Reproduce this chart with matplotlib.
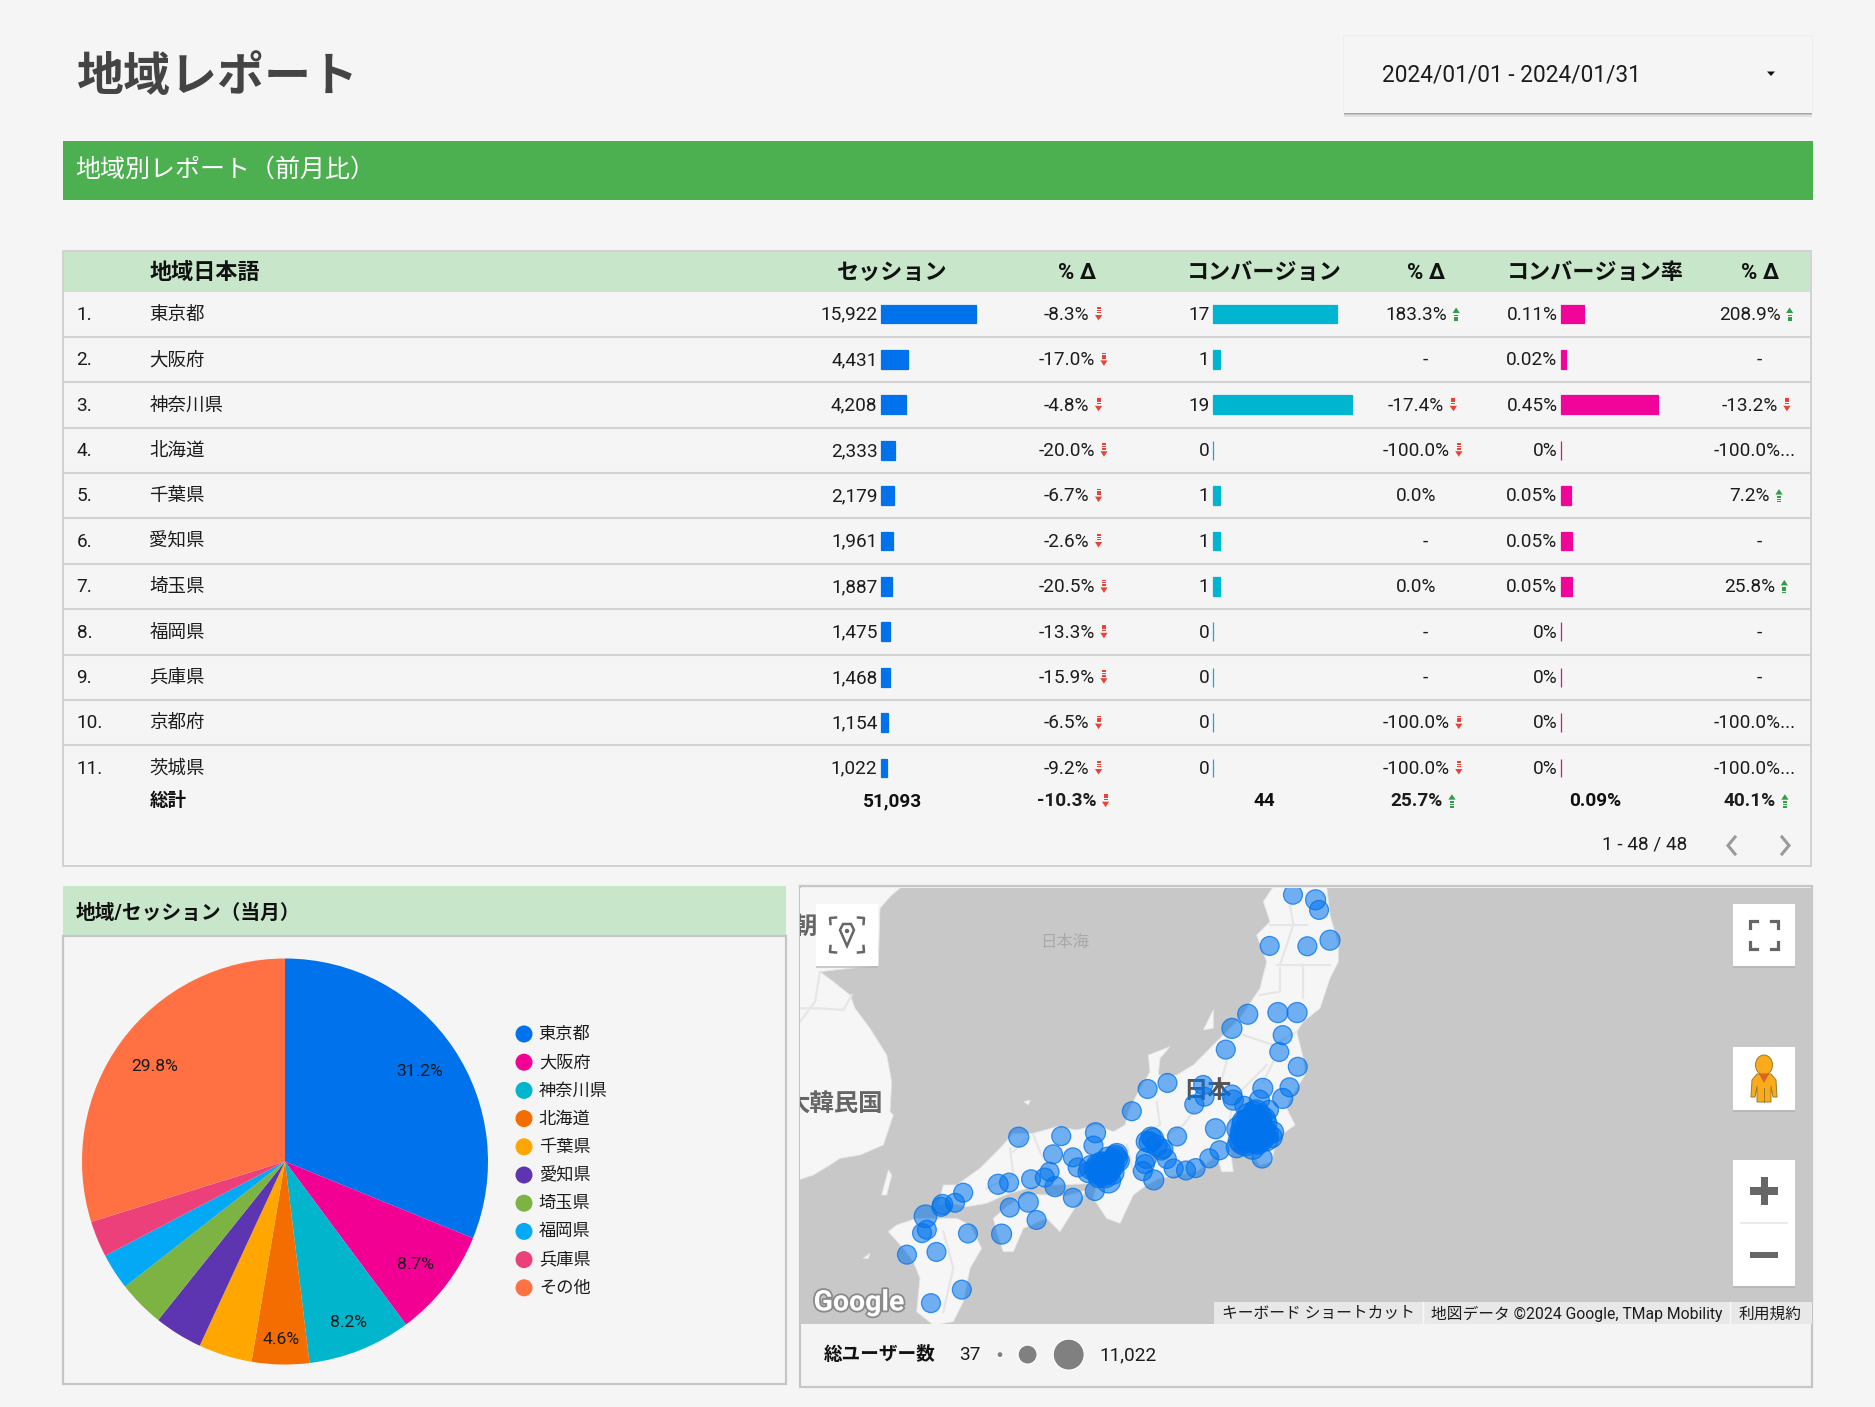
import numpy as np
import matplotlib
matplotlib.use("Agg")
import matplotlib.pyplot as plt
from matplotlib.patches import Rectangle, Polygon, Ellipse, Circle
import matplotlib.patheffects as pe

plt.rcParams['font.family'] = ['Roboto', 'Noto Sans CJK JP', 'DejaVu Sans']

# ---------- data ----------
regions = ['東京都', '大阪府', '神奈川県', '北海道', '千葉県', '愛知県', '埼玉県', '福岡県', '兵庫県', '京都府', '茨城県']
sessions = [15922, 4431, 4208, 2333, 2179, 1961, 1887, 1475, 1468, 1154, 1022]
session_delta = [-8.3, -17.0, -4.8, -20.0, -6.7, -2.6, -20.5, -13.3, -15.9, -6.5, -9.2]
conversions = [17, 1, 19, 0, 1, 1, 1, 0, 0, 0, 0]
conv_delta = [183.3, None, -17.4, -100.0, 0.0, None, 0.0, None, None, -100.0, -100.0]
conv_rate = [0.107, 0.023, 0.452, 0, 0.046, 0.051, 0.053, 0, 0, 0, 0]
conv_rate_labels = ['0.11%', '0.02%', '0.45%', '0%', '0.05%', '0.05%', '0.05%', '0%', '0%', '0%', '0%']
rate_delta = [208.9, None, -13.2, -100.0, 7.2, None, 25.8, None, None, -100.0, -100.0]
totals = ['51,093', -10.3, '44', 25.7, '0.09%', 40.1]

pie_labels = ['東京都', '大阪府', '神奈川県', '北海道', '千葉県', '愛知県', '埼玉県', '福岡県', '兵庫県', 'その他']
pie_values = [15922, 4431, 4208, 2333, 2179, 1961, 1887, 1475, 1468, 15229]
pie_colors = ['#0072ec', '#f20094', '#00b5cc', '#f46d00', '#ffa600', '#5e35b1', '#7cb342', '#03a9f4', '#ec407a', '#ff7043']

bubble_x = [719, 752, 757, 773, 740, 685,
            653, 697, 725, 630, 704, 621, 699, 726,
            714, 675, 704, 670, 684, 648,
            536, 507, 588, 590, 575, 630, 632, 484,
            655, 665, 650, 672, 660, 645, 680, 690, 670, 650, 660, 637, 688, 668, 640, 655, 675, 658, 645, 660,
            662, 650, 668, 678, 652, 640, 672,
            665, 678, 645, 655, 668, 680, 655, 665, 650, 675, 662, 648,
            674, 606, 612, 597, 550,
            577, 563, 545, 535, 527, 515, 510, 520, 505, 530, 512, 505, 503, 500, 516,
            460, 450, 440, 445, 430, 455, 465, 420, 435, 450, 405, 398, 462, 440, 455, 448, 442,
            425, 435, 445, 455, 440, 450, 445, 435, 460,
            431, 428, 381, 319, 369, 430, 398,
            364, 357, 372, 337, 305, 289, 333, 306, 345, 294, 238, 226, 208, 206,
            183, 185, 178, 245, 199, 156, 236, 191]
bubble_y = [45, 60, 90, 180, 198, 197,
            400, 395, 395, 442, 462, 505, 512, 556,
            617, 620, 650, 655, 684, 672,
            604, 622, 610, 645, 668, 640, 655, 688,
            700, 710, 730, 730, 750, 760, 755, 750, 770, 785, 795, 795, 765, 720, 740, 715, 745, 770, 780, 730,
            690, 760, 785, 710, 740, 775, 700,
            690, 725, 750, 740, 755, 770, 760, 775, 770, 760, 705, 720,
            827, 740, 804, 828, 763,
            857, 864, 858, 830, 805, 770, 780, 790, 778, 800, 765, 828, 845, 866, 892,
            820, 830, 845, 860, 860, 850, 835, 870, 885, 895, 855, 825, 815, 870, 870, 850, 875,
            855, 850, 845, 840, 860, 865, 880, 870, 830,
            752, 790, 762, 765, 816, 925, 945,
            868, 885, 912, 890, 900, 905, 958, 974, 1011, 1053, 930, 960, 965, 972,
            1000, 1040, 1050, 1051, 1106, 1114, 1218, 1258]
bubble_users = [300, 400, 300, 400, 300, 300,
                400, 400, 400, 400, 300, 300, 300, 300,
                300, 400, 400, 400, 300, 300,
                300, 300, 300, 300, 300, 400, 400, 300,
                900, 900, 1500, 900, 3000, 900, 900, 500, 1500, 900, 900, 500, 500, 900, 900, 900, 900, 1500, 900, 900,
                500, 500, 500, 500, 500, 500, 500,
                900, 900, 900, 900, 900, 900, 900, 900, 900, 900, 900, 900,
                400, 400, 300, 300, 300,
                300, 300, 300, 300, 300, 500, 500, 500, 400, 300, 400, 400, 300, 300, 400,
                500, 900, 900, 900, 500, 900, 500, 400, 400, 900, 300, 300, 500, 900, 900, 900, 900,
                900, 900, 900, 900, 900, 900, 900, 900, 900,
                400, 300, 300, 400, 300, 300, 300,
                300, 300, 400, 300, 300, 400, 400, 300, 300, 400, 300, 300, 400, 300,
                700, 300, 300, 300, 300, 300, 300, 300]
legend_min, legend_max = '37', '11,022'

# ---------- helpers ----------
W, H = 1875, 1407
BG = '#f5f5f5'
GREEN_L = '#c8e6c9'
LINE = '#d2d2d2'
TXT = '#1c1c1c'
fig = plt.figure(figsize=(W / 100, H / 100), dpi=100, facecolor=BG)


def px_axes(l, t, r, b, z=1):
    a = fig.add_axes([l / W, 1 - b / H, (r - l) / W, (b - t) / H], zorder=z)
    a.axis('off')
    a.patch.set_alpha(0)
    return a


ax = px_axes(0, 0, W, H, 0)
ax.set_xlim(0, W)
ax.set_ylim(H, 0)
renderer = fig.canvas.get_renderer()


def T(x, y, s, size=13.7, weight='normal', color=TXT, ha='left', a=None, **kw):
    return (a or ax).text(x, y - 1.2, s, fontsize=size, fontweight=weight, color=color, ha=ha, va='center_baseline', **kw)


def rect(x0, y0, x1, y1, fc, ec='none', lw=0, a=None, z=1, **kw):
    p = Rectangle((x0, y0), x1 - x0, y1 - y0, fc=fc, ec=ec, lw=lw, zorder=z, **kw)
    (a or ax).add_patch(p)
    return p


def arrow(cx, cy, up):
    c = '#2f9e44' if up else '#ea4335'
    s = -1 if up else 1
    ax.add_patch(Polygon([(cx - 3.6, cy + s * 1.0), (cx + 3.6, cy + s * 1.0), (cx, cy + s * 6.5)], fc=c, ec='none', zorder=3))
    for off in (-6, -3.7, -1.4):
        rect(cx - 2, cy + s * off - 0.8, cx + 2, cy + s * off + 0.8, c, z=3)


def delta(center, y, val, weight='normal'):
    if val is None:
        T(center + 3, y, '-', ha='center', weight=weight)
        return
    if val == 0:
        T(center - 6, y, '0.0%', ha='center', weight=weight)
        return
    t = T(center, y, f'{val:.1f}%', ha='left', weight=weight)
    w = t.get_window_extent(renderer).width
    aw = 7
    gap = 5.5
    x0 = center - (w + gap + aw) / 2
    t.set_x(x0)
    arrow(x0 + w + gap + aw / 2, y, val > 0)


# ---------- page header ----------
T(76, 74, '地域レポート', size=33.8, weight='bold', color='#444444')
for y0, c in [(112.5, '#a6a6a6'), (114, '#c4c4c4'), (115, '#e2e2e2')]:
    rect(1344, y0, 1812, y0 + 1.5, c)
rect(1343, 35, 1813, 113, '#ededed')
rect(1344, 35.5, 1812, 113, BG, z=2)
T(1381.5, 73.5, '2024/01/01 - 2024/01/31', size=16.3, zorder=3)
ax.add_patch(Polygon([(1767, 71.5), (1775, 71.5), (1771, 76)], fc='#111111', ec='none', zorder=3))
rect(62.5, 141, 1812.5, 200, '#4caf50')
T(75.5, 168, '地域別レポート（前月比）', size=18, color='white')

# ---------- table ----------
TL, TR, TT, TB = 63, 1811, 251, 866
rect(TL, TT, TR, 292, GREEN_L)
ax.add_patch(Rectangle((TL, TT), TR - TL, TB - TT, fc='none', ec=LINE, lw=1.4, zorder=2))
row_h = 45.4
row_y = [314 + row_h * i for i in range(11)]
for i in range(10):
    ax.plot([TL, TR], [336.7 + row_h * i] * 2, color=LINE, lw=1.5, zorder=2, solid_capstyle='butt')

HY = 271.5
T(149.5, HY, '地域日本語', size=15.9, weight='bold', color='#111111')
for x, s in [(892, 'セッション'), (1076.7, '% Δ'), (1264.5, 'コンバージョン'), (1425.8, '% Δ'),
             (1595.7, 'コンバージョン率'), (1759.8, '% Δ')]:
    T(x, HY, s, size=15.9, weight='bold', color='#111111', ha='center')

for i, y in enumerate(row_y):
    T(76.5, y, f'{i + 1}.', color=TXT)
    T(149.5, y, regions[i], size=13.3)
    T(877.5, y, f'{sessions[i]:,}', ha='right')
    delta(1073, y, session_delta[i])
    T(1209.5, y, str(conversions[i]), ha='right')
    delta(1422.5, y, conv_delta[i])
    T(1557.5, y, conv_rate_labels[i], ha='right')
    if rate_delta[i] == -100.0:
        T(1755, y, '-100.0%...', ha='center')
    else:
        delta(1756, y, rate_delta[i])

rows = np.arange(11)
top_px = row_y[0] - row_h / 2
bot_px = row_y[-1] + row_h / 2
for (l, r, vals, vmax, col) in [(881, 976.5, sessions, 15922, '#0072ec'),
                                (1213, 1337, conversions, 17, '#00b5cf'),
                                (1561, 1657.5, conv_rate, 0.452, '#f0049a')]:
    a = px_axes(l, top_px, r, bot_px, 1)
    a.set_xlim(0, vmax)
    a.set_ylim(10.5, -0.5)
    a.barh(rows, vals, height=18.7 / row_h, color=col, edgecolor=col, linewidth=0.9, clip_on=False)

TOTY = 800.7
T(149.5, TOTY, '総計', size=13.3, weight='bold', color='#111111')
T(892, TOTY, totals[0], weight='bold', ha='center', color='#111111')
delta(1073, TOTY, totals[1], weight='bold')
T(1264, TOTY, totals[2], weight='bold', ha='center', color='#111111')
delta(1423, TOTY, totals[3], weight='bold')
T(1595, TOTY, totals[4], weight='bold', ha='center', color='#111111')
delta(1756, TOTY, totals[5], weight='bold')

T(1687, 844, '1 - 48 / 48', ha='right')
ax.plot([1735, 1728, 1735], [837, 845.5, 854], color='#9a9a9a', lw=2.2, solid_joinstyle='miter')
ax.plot([1782, 1789, 1782], [837, 845.5, 854], color='#9a9a9a', lw=2.2, solid_joinstyle='miter')

# ---------- pie panel ----------
PANEL = '#c6c6c6'
rect(63, 886, 785.5, 936, GREEN_L)
ax.add_patch(Rectangle((63, 936), 722.5, 448, fc='none', ec=PANEL, lw=1.6, zorder=2))
T(75.8, 912.5, '地域/セッション（当月）', size=14.2, weight='bold', color='#111111')

pcx, pcy, R = 285, 1161.5, 203
pa = px_axes(pcx - R, pcy - R, pcx + R, pcy + R, 1)
_, _, autotexts = pa.pie(pie_values, colors=pie_colors, startangle=90, counterclock=False, radius=1.0,
                         autopct=lambda p: f'{p:.1f}%' if p >= 4.5 else '', pctdistance=0.8,
                         textprops={'fontsize': 12.6, 'color': '#1a1a1a'})
pa.set_xlim(-1, 1)
pa.set_ylim(-1, 1)
for at, k in zip(autotexts, [1.0, 1.02, 1.06, 1.09, 1, 1, 1, 1, 1, 1.0]):
    px_, py_ = at.get_position()
    at.set_position((px_ * k, py_ * k - 0.005))
for i, s in enumerate(pie_labels):
    y = 1034 + 28.2 * i
    ax.add_patch(Circle((524, y), 8.5, fc=pie_colors[i], ec='none', zorder=2))
    T(538.8, y, s, size=12.4)

# ---------- map panel ----------
ML, MR, MT, MB = 800, 1812, 888, 1324
ax.add_patch(Rectangle((ML, 886), MR - ML, 501, fc='#f4f4f4', ec=PANEL, lw=1.6, zorder=1))
m = px_axes(ML, MT, MR, MB, 2)
m.set_xlim(ML, MR)
m.set_ylim(MB, MT)
m.add_patch(Rectangle((ML, MT), MR - ML, MB - MT, fc='#c8c8c8', ec='none', zorder=0))


def Z(pts):
    return [(800 + px / 3, 885 + py / 3) for px, py in pts]


LAND = '#f6f6f6'
land = [
    [(-5, 5), (305, 5), (270, 35), (240, 70), (235, 240), (60, 260), (100, 290), (150, 330), (165, 370), (210, 430), (260, 510),
     (275, 590), (270, 680), (280, 690), (250, 780), (180, 810), (120, 820), (90, 840), (40, 870), (-5, 885)],
    [(415, 960), (430, 900), (470, 900), (540, 850), (600, 790), (640, 745), (700, 745), (770, 725), (830, 735), (890, 720),
     (940, 740), (975, 720), (985, 680), (1010, 630), (1050, 560), (1045, 510), (1110, 485), (1080, 520), (1075, 570), (1130, 570),
     (1180, 540), (1240, 480), (1320, 400), (1380, 310), (1400, 230), (1370, 150), (1410, 110), (1390, 50), (1420, 5), (1580, 5),
     (1590, 90), (1615, 180), (1615, 230), (1590, 280), (1560, 370), (1510, 410), (1490, 440), (1510, 520), (1515, 570), (1470, 640),
     (1460, 670), (1485, 720), (1430, 760), (1415, 830), (1380, 840), (1340, 780), (1290, 790), (1300, 860), (1265, 860), (1250, 810),
     (1190, 860), (1080, 880), (1040, 900), (1000, 930), (960, 1015), (920, 1000), (880, 940), (890, 895), (840, 897), (760, 900),
     (700, 905), (620, 928), (560, 955), (500, 965), (450, 955)],
    [(580, 1000), (620, 965), (680, 928), (800, 932), (860, 915), (830, 960), (780, 1040), (740, 1000), (670, 1030), (640, 1100), (610, 1100), (590, 1040)],
    [(350, 1000), (290, 1020), (265, 1040), (310, 1090), (340, 1130), (360, 1180), (350, 1280), (400, 1320), (460, 1310), (490, 1250), (510, 1150), (545, 1090), (510, 1020), (470, 1000), (420, 1000)],
    [(1210, 435), (1240, 375), (1240, 430)],
    [(245, 930), (265, 855), (275, 870), (260, 930)],
    [(190, 1120), (210, 1105), (205, 1120)],
    [(672, 650), (690, 645), (685, 660)],
]
for poly in land:
    m.add_patch(Polygon(Z(poly), fc=LAND, ec='#e6e6e6', lw=0.6, zorder=1))
roads = [
    [(1440, 250), (1440, 320), (1380, 330)], [(1510, 240), (1510, 340)], [(1430, 240), (1520, 240), (1590, 240)],
    [(1410, 120), (1520, 120)], [(1470, 60), (1480, 120), (1440, 240)], [(1330, 450), (1420, 480), (1490, 440)],
    [(1420, 530), (1390, 590)], [(1280, 530), (1260, 600)], [(630, 790), (640, 870), (560, 910)], [(680, 760), (640, 800)],
    [(1070, 650), (1080, 720), (1040, 740)], [(60, 260), (45, 350), (0, 410)], [(0, 370), (60, 370), (130, 375), (155, 330)],
    [(1180, 680), (1150, 720), (1100, 750)], [(760, 870), (720, 800), (700, 750)], [(430, 1040), (460, 1150), (430, 1280)],
    [(980, 780), (1000, 860), (1040, 900)], [(1290, 700), (1300, 640), (1400, 540)],
]
for r in roads:
    xy = np.array(Z(r))
    m.plot(xy[:, 0], xy[:, 1], color='#e6e6e6', lw=1.6, zorder=2)

m.text(1065, 942, '日本海', fontsize=11.8, color='#a9a9a9', ha='center', va='center', zorder=3)
m.text(882.5, 1105, '大韓民国', fontsize=17.6, fontweight='bold', color='#666666', ha='right', va='center', zorder=3, clip_on=True)
m.text(792, 927, '朝鮮', fontsize=17.6, fontweight='bold', color='#666666', ha='left', va='center', zorder=3, clip_on=True)
m.text(1208, 1092, '日本', fontsize=17.5, fontweight='bold', color='#555555', ha='center', va='center', zorder=3)
m.text(859, 1303, 'Google', fontsize=20.5, fontweight='bold', color='white', ha='center', va='center', zorder=6,
       path_effects=[pe.withStroke(linewidth=2.6, foreground='#8a8a8a')])

b = px_axes(ML, MT, MR, MB, 3)
b.set_xlim(0, 1476)
b.set_ylim(1320, 25)
diam_px = 12 + 0.4 * np.sqrt(np.array(bubble_users, dtype=float))
b.scatter(bubble_x, bubble_y, s=(diam_px * 0.72) ** 2, color=(0, 0.45, 0.93, 0.55),
          edgecolors=(0, 0.45, 0.93, 0.75), linewidths=0.9, clip_on=True)

# ---------- map overlays ----------
o = px_axes(0, 0, W, H, 4)
o.set_xlim(0, W)
o.set_ylim(H, 0)
rect(1214, 1302, MR, 1324, '#e8e8e8', a=o)
for x in (1422.5, 1730):
    o.plot([x, x], [1302, 1324], color='#f8f8f8', lw=1)
T(1221.5, 1313.5, 'キーボード ショートカット', size=11.35, a=o)
T(1431, 1313.5, '地図データ ©2024 Google, TMap Mobility', size=11.3, a=o)
T(1739, 1313.5, '利用規約', size=11.3, a=o)

for (x0, y0, x1, y1) in [(816, 904, 878, 966), (1733, 904, 1795, 966), (1733, 1047, 1795, 1110), (1733, 1160, 1795, 1286)]:
    o.add_patch(Rectangle((x0, y0 + 1.5), x1 - x0, y1 - y0, fc='#b0b0b0', ec='none', zorder=1, alpha=0.6))
    o.add_patch(Rectangle((x0, y0), x1 - x0, y1 - y0, fc='white', ec='none', zorder=2))

GI = '#666666'
for sx, sy in [(-1, -1), (1, -1), (-1, 1), (1, 1)]:
    cx, cy = 1764 + sx * 14, 935 + sy * 14
    o.plot([cx, cx, cx - sx * 7], [cy - sy * 7, cy, cy], color=GI, lw=2.3, zorder=3, solid_joinstyle='miter')
    cx, cy = 847 + sx * 17, 935 + sy * 17
    o.plot([cx - sx * 0.5, cx, cx - sx * 6], [cy - sy * 6, cy, cy + sy * 0.5], color=GI, lw=1.8, zorder=3)
o.add_patch(Polygon([(840, 930), (843, 924), (851, 924), (854, 930), (847, 946)], fc='white', ec=GI, lw=1.8, zorder=3))
o.add_patch(Circle((847, 931), 2.2, fc=GI, ec='none', zorder=4))

o.add_patch(Ellipse((1764, 1065), 17, 20, fc='#f9ab1c', ec='#9c7a2a', lw=0.7, zorder=3))
o.add_patch(Polygon([(1757, 1074), (1771, 1074), (1776, 1080), (1777, 1097), (1773, 1097), (1771, 1086), (1771, 1102), (1757, 1102), (1757, 1086), (1755, 1097), (1751, 1097), (1752, 1080)],
                    fc='#f9ab1c', ec='#9c7a2a', lw=0.7, zorder=3))
o.plot([1764, 1764], [1088, 1102], color='#9c7a2a', lw=0.7, zorder=4)
o.add_patch(Polygon([(1759, 1074), (1769, 1074), (1764, 1083)], fc='#d9661f', ec='none', zorder=4))

rect(1750, 1187, 1778, 1194.5, GI, a=o, z=3)
rect(1760.5, 1177, 1767.5, 1205, GI, a=o, z=3)
rect(1750, 1251.5, 1778, 1258, GI, a=o, z=3)
o.plot([1741, 1787], [1223, 1223], color='#e6e6e6', lw=1.2, zorder=3)

LY = 1354.6
T(824, LY, '総ユーザー数', size=13.4, weight='bold', color='#111111')
T(959, LY, legend_min)
T(1099.6, LY, legend_max)
for x, d in [(1000, 6), (1027.6, 19), (1068.7, 31)]:
    ax.add_patch(Circle((x, 1354.6), d / 2, fc='#808080', ec='white', lw=0.8, zorder=3))

fig.savefig('out.png', dpi=100, facecolor=BG)
